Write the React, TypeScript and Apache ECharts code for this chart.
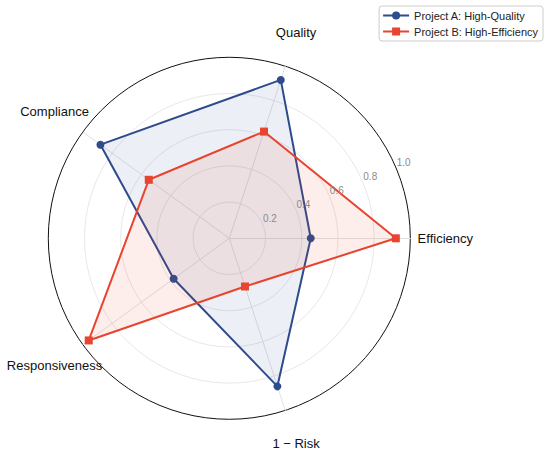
import React, { useEffect, useRef } from "react";
import * as echarts from "echarts";

const indicators = ["Efficiency", "Quality", "Compliance", "Responsiveness", "1 − Risk"];
const projectA = [0.45, 0.92, 0.88, 0.38, 0.86];
const projectB = [0.92, 0.62, 0.55, 0.96, 0.28];
const radialMax = 1;
const radialSplits = 5;
const seriesNames = ["Project A: High-Quality", "Project B: High-Efficiency"];

const FONT = "'Liberation Sans', Arial, Helvetica, sans-serif";
const BLUE = "#2e4b8d";
const RED = "#e8442f";

const circleIcon = "path://M0,3.1H26V4.9H0Z M9,4A4,4 0 1,1 17,4A4,4 0 1,1 9,4Z";
const rectIcon = "path://M0,3.1H26V4.9H0Z M9,0H17V8H9Z";

export default function App() {
  const ref = useRef<HTMLDivElement>(null);
  useEffect(() => {
    if (!ref.current) return;
    const chart = echarts.init(ref.current, null, { renderer: "svg" });
    const center = [229.3, 238.3];
    const R = 181;
    chart.setOption({
      animation: false,
      color: [BLUE, RED],
      textStyle: { fontFamily: FONT },
      legend: {
        orient: "vertical",
        right: 7,
        top: 6,
        itemWidth: 26,
        itemHeight: 8,
        itemGap: 5,
        padding: [4, 5, 4, 4],
        borderColor: "#cccccc",
        borderWidth: 1,
        borderRadius: 3,
        backgroundColor: "#ffffff",
        textStyle: { fontSize: 11, color: "#222", fontFamily: FONT },
        data: [
          { name: seriesNames[0], icon: circleIcon, itemStyle: { color: BLUE } },
          { name: seriesNames[1], icon: rectIcon, itemStyle: { color: RED } },
        ],
      },
      radar: {
        center,
        radius: R,
        startAngle: 0,
        shape: "circle",
        splitNumber: radialSplits,
        indicator: indicators.map((name) => ({ name, min: 0, max: radialMax })),
        axisNameGap: 35,
        axisName: {
          color: "#111",
          fontSize: 13,
          fontFamily: FONT,
          align: "center",
          verticalAlign: "middle",
        },
        axisLine: { lineStyle: { color: "#e2e2e2", width: 1 } },
        axisTick: { show: false },
        axisLabel: { show: false },
        splitArea: { show: false },
        splitLine: {
          lineStyle: {
            color: ["#e8e8e8", "#e8e8e8", "#e8e8e8", "#e8e8e8", "#e8e8e8", "#111111"],
            width: 1,
          },
        },
      },
      polar: { center, radius: [9, R + 9] },
      angleAxis: { type: "value", min: 0, max: 360, startAngle: 22.5, show: false },
      radiusAxis: {
        type: "value",
        min: 0,
        max: radialMax,
        interval: radialMax / radialSplits,
        axisLine: { show: false },
        axisTick: { show: false },
        splitLine: { show: false },
        z: 10,
        axisLabel: {
          color: "#8c8c8c",
          fontSize: 10,
          fontFamily: FONT,
          margin: 3,
          align: "center",
          verticalAlign: "middle",
          showMinLabel: false,
          formatter: (v: number) => (v === 0 ? "" : v.toFixed(1)),
        },
      },
      series: [
        {
          type: "radar",
          name: seriesNames[0],
          z: 2,
          color: BLUE,
          itemStyle: { color: BLUE },
          lineStyle: { color: BLUE, width: 2 },
          data: [
            {
              name: seriesNames[0],
              value: projectA,
              symbol: "circle",
              symbolSize: 8,
              itemStyle: { color: BLUE },
              lineStyle: { color: BLUE, width: 2 },
              areaStyle: { color: "rgba(46,75,141,0.13)" },
            },
          ],
        },
        {
          type: "radar",
          name: seriesNames[1],
          z: 3,
          color: RED,
          itemStyle: { color: RED },
          lineStyle: { color: RED, width: 2 },
          data: [
            {
              name: seriesNames[1],
              value: projectB,
              symbol: "rect",
              symbolSize: 8,
              itemStyle: { color: RED },
              lineStyle: { color: RED, width: 2 },
              areaStyle: { color: "rgba(232,68,47,0.13)" },
            },
          ],
        },
      ],
    });
    return () => chart.dispose();
  }, []);
  return (
    <div
      ref={ref}
      style={{ position: "absolute", left: 0, top: 0, width: 550, height: 454 }}
    />
  );
}
